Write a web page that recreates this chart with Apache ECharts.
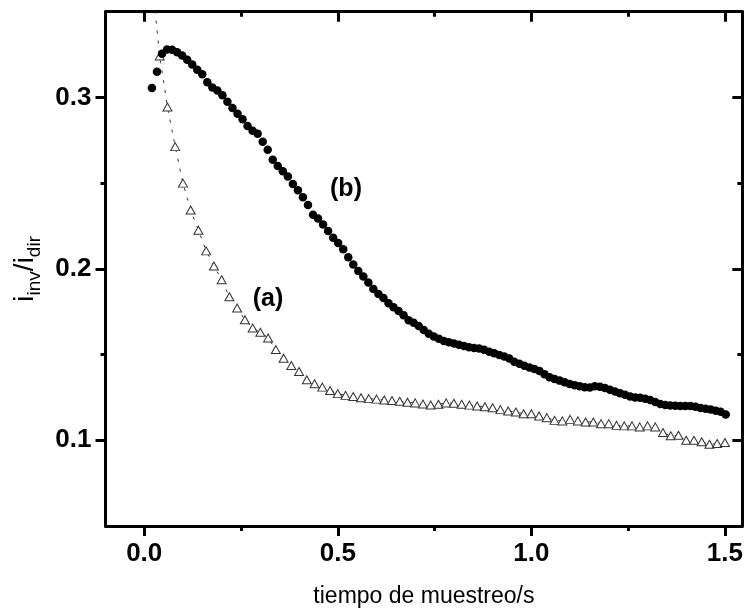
<!DOCTYPE html>
<html>
<head>
<meta charset="utf-8">
<script src="https://cdn.jsdelivr.net/npm/echarts@6/dist/echarts.min.js"></script>
<style>
html, body { margin: 0; padding: 0; background: #fff; }
#chart { width: 746px; height: 613px; }
</style>
</head>
<body>
<div id="chart"></div>
<script>
// Sampling times (s) and current ratio i_inv/i_dir, curve (b): filled circles
const timeB = [
  0.020,0.033,0.046,0.059,0.072,0.085,0.098,0.111,0.124,0.137,
  0.150,0.163,0.176,0.189,0.202,0.215,0.228,0.241,0.254,0.267,
  0.280,0.293,0.306,0.319,0.332,0.345,0.358,0.371,0.384,0.397,
  0.410,0.423,0.436,0.449,0.462,0.475,0.488,0.501,0.514,0.527,
  0.540,0.553,0.566,0.579,0.592,0.605,0.618,0.631,0.644,0.657,
  0.670,0.683,0.696,0.709,0.722,0.735,0.748,0.761,0.774,0.787,
  0.800,0.813,0.826,0.839,0.852,0.865,0.878,0.891,0.904,0.917,
  0.930,0.943,0.956,0.969,0.982,0.995,1.008,1.021,1.034,1.047,
  1.060,1.073,1.086,1.099,1.112,1.125,1.138,1.151,1.164,1.177,
  1.190,1.203,1.216,1.229,1.242,1.255,1.268,1.281,1.294,1.307,
  1.320,1.333,1.346,1.359,1.372,1.385,1.398,1.411,1.424,1.437,
  1.450,1.463,1.476,1.489,1.502
];
const ratioB = [
  0.3055,0.3150,0.3255,0.3280,0.3278,0.3264,0.3245,0.3220,0.3192,0.3162,
  0.3135,0.3088,0.3058,0.3040,0.3012,0.2975,0.2938,0.2905,0.2873,0.2833,
  0.2805,0.2788,0.2742,0.2695,0.2636,0.2600,0.2570,0.2538,0.2495,0.2458,
  0.2418,0.2372,0.2316,0.2294,0.2259,0.2221,0.2182,0.2151,0.2114,0.2067,
  0.2026,0.1988,0.1956,0.1921,0.1883,0.1853,0.1830,0.1800,0.1776,0.1754,
  0.1730,0.1700,0.1686,0.1666,0.1644,0.1622,0.1606,0.1592,0.1579,0.1572,
  0.1565,0.1557,0.1550,0.1543,0.1538,0.1535,0.1528,0.1517,0.1507,0.1497,
  0.1489,0.1477,0.1458,0.1446,0.1435,0.1425,0.1416,0.1404,0.1385,0.1368,
  0.1357,0.1348,0.1338,0.1328,0.1321,0.1315,0.1309,0.1308,0.1315,0.1312,
  0.1305,0.1295,0.1285,0.1275,0.1265,0.1255,0.1250,0.1248,0.1242,0.1235,
  0.1224,0.1211,0.1206,0.1203,0.1202,0.1200,0.1200,0.1200,0.1196,0.1189,
  0.1184,0.1180,0.1173,0.1166,0.1150
];

// Curve (a): open triangles joined by a thin dashed line
const timeA = [
  0.02,0.04,0.06,0.08,0.10,0.12,0.14,0.16,0.18,0.20,
  0.22,0.24,0.26,0.28,0.30,0.32,0.34,0.36,0.38,0.40,
  0.42,0.44,0.46,0.48,0.50,0.52,0.54,0.56,0.58,0.60,
  0.62,0.64,0.66,0.68,0.70,0.72,0.74,0.76,0.78,0.80,
  0.82,0.84,0.86,0.88,0.90,0.92,0.94,0.96,0.98,1.00,
  1.02,1.04,1.06,1.08,1.10,1.12,1.14,1.16,1.18,1.20,
  1.22,1.24,1.26,1.28,1.30,1.32,1.34,1.36,1.38,1.40,
  1.42,1.44,1.46,1.48,1.50
];
const ratioA = [
  0.3680,0.3242,0.2944,0.2713,0.2500,0.2343,0.2225,0.2105,0.2017,0.1936,
  0.1837,0.1772,0.1703,0.1655,0.1630,0.1597,0.1529,0.1479,0.1436,0.1401,
  0.1353,0.1330,0.1310,0.1290,0.1272,0.1262,0.1255,0.1248,0.1243,0.1240,
  0.1235,0.1232,0.1228,0.1222,0.1218,0.1212,0.1206,0.1210,0.1218,0.1216,
  0.1210,0.1205,0.1200,0.1196,0.1190,0.1179,0.1171,0.1165,0.1155,0.1155,
  0.1142,0.1132,0.1116,0.1113,0.1122,0.1113,0.1107,0.1107,0.1097,0.1097,
  0.1087,0.1084,0.1084,0.1078,0.1084,0.1078,0.1045,0.1026,0.1029,0.1000,
  0.1000,0.0991,0.0977,0.0981,0.0987
];

// Tick positions
const xMajorTicks = [0, 0.5, 1.0, 1.5];
const xMinorTicks = [0.25, 0.75, 1.25];
const yMajorTicks = [0.1, 0.2, 0.3];
const yMinorTicks = [0.15, 0.25];

const X_RANGE = [-0.1, 1.545];
const Y_RANGE = [0.05, 0.35];
const FONT = '"Liberation Sans", Arial, Helvetica, sans-serif';
const INK = '#000';

function frameAxis(kind, position, ticks, tickLen, inside, showLine, extra) {
  const range = kind === 'x' ? X_RANGE : Y_RANGE;
  return Object.assign({
    type: 'value',
    position: position,
    min: range[0],
    max: range[1],
    axisLine: { show: showLine, onZero: false, lineStyle: { color: INK, width: 3 } },
    axisTick: {
      show: true, inside: inside, length: tickLen, customValues: ticks,
      lineStyle: { color: INK, width: 3 }
    },
    axisLabel: { show: false },
    splitLine: { show: false },
    minorTick: { show: false }
  }, extra || {});
}

const labelStyle = {
  show: true,
  fontSize: 26,
  fontWeight: 'bold',
  fontFamily: FONT,
  color: INK,
  formatter: v => v.toFixed(1)
};

const option = {
  animation: false,
  backgroundColor: '#fff',
  grid: { left: 105.5, right: 1.7, top: 11.7, bottom: 86.7, containLabel: false },
  xAxis: [
    frameAxis('x', 'bottom', xMajorTicks, 10, false, true, {
      axisLabel: Object.assign({}, labelStyle, { customValues: xMajorTicks, margin: 15 }),
      name: 'tiempo de muestreo/s',
      nameLocation: 'middle',
      nameGap: 59,
      nameTextStyle: { fontSize: 23, fontFamily: FONT, color: INK }
    }),
    frameAxis('x', 'bottom', xMinorTicks, 5, false, false),
    frameAxis('x', 'top', xMajorTicks, 10, true, true),
    frameAxis('x', 'top', xMinorTicks, 5, true, false)
  ],
  yAxis: [
    frameAxis('y', 'left', yMajorTicks, 10, false, true, {
      axisLabel: Object.assign({}, labelStyle, { customValues: yMajorTicks, margin: 14 }),
      name: '{m|i}{s|inv}{m|/i}{s|dir}',
      nameLocation: 'middle',
      nameGap: 58,
      nameRotate: 90,
      nameTextStyle: {
        fontFamily: FONT, color: INK,
        rich: {
          m: { fontSize: 28, lineHeight: 33, verticalAlign: 'top', fontFamily: FONT, color: INK },
          s: { fontSize: 19, lineHeight: 19, verticalAlign: 'bottom', fontFamily: FONT, color: INK }
        }
      }
    }),
    frameAxis('y', 'left', yMinorTicks, 5, false, false),
    frameAxis('y', 'right', yMajorTicks, 10, true, true),
    frameAxis('y', 'right', yMinorTicks, 5, true, false)
  ],
  graphic: [
    { type: 'text', x: 346, y: 189, z: 10,
      style: { text: '(b)', align: 'center', verticalAlign: 'middle',
               font: 'bold 25px ' + FONT, fill: INK } },
    { type: 'text', x: 268, y: 299, z: 10,
      style: { text: '(a)', align: 'center', verticalAlign: 'middle',
               font: 'bold 25px ' + FONT, fill: INK } }
  ],
  series: [
    {
      name: '(a)',
      type: 'line',
      xAxisIndex: 0,
      yAxisIndex: 0,
      data: timeA.map((t, i) => [t, ratioA[i]]),
      symbol: 'triangle',
      symbolSize: [9, 8],
      showSymbol: true,
      clip: true,
      lineStyle: { color: '#333', width: 1, type: [3, 7] },
      itemStyle: { color: '#fff', borderColor: '#333', borderWidth: 1, opacity: 1 },
      z: 2
    },
    {
      name: '(b)',
      type: 'scatter',
      xAxisIndex: 0,
      yAxisIndex: 0,
      data: timeB.map((t, i) => [t, ratioB[i]]),
      symbol: 'circle',
      symbolSize: 8.5,
      clip: true,
      itemStyle: { color: INK, opacity: 1 },
      z: 3
    }
  ]
};

const chart = echarts.init(document.getElementById('chart'), null, { renderer: 'canvas' });
chart.setOption(option);
</script>
</body>
</html>
